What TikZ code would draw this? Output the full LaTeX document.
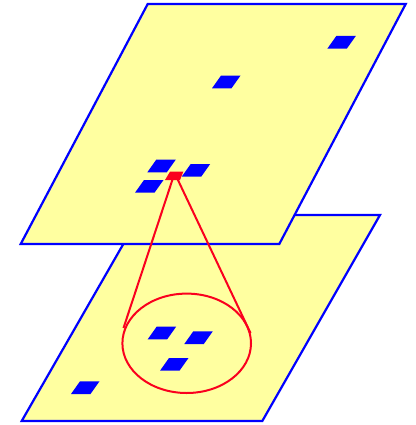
\documentclass[tikz,border=0pt]{standalone}
\definecolor{pl}{RGB}{255,255,160}
\definecolor{bl}{RGB}{0,0,255}
\definecolor{rd}{RGB}{250,0,30}
\begin{document}
\begin{tikzpicture}[x=1pt,y=-1pt,
  plane/.style={draw=bl,fill=pl,line width=2.2pt,line join=miter},
  cell/.style={fill=bl},
  zoomline/.style={draw=rd,line width=2pt}]
\useasboundingbox (0,0) rectangle (415,425);
\newcommand{\cellat}[3][cell]{\fill[#1] (#2,#3) -- ++(19.5,0) -- ++(9,-12.7) -- ++(-19.5,0) -- cycle;}
% bottom plane
\draw[plane] (21.7,421) -- (262.3,421) -- (380,215) -- (140,215) -- cycle;
\cellat{147.7}{339.3}
\cellat{184.3}{344}
\cellat{160}{370.7}
\cellat{71}{394}
\draw[zoomline] (186.7,343.3) ellipse [x radius=64.3, y radius=49.7];
% top plane
\draw[plane] (20.7,244) -- (279.3,244) -- (405.7,4) -- (147.7,4) -- cycle;
\cellat{327.3}{48.7}
\cellat{212}{88.3}
\cellat{147.3}{172.3}
\cellat{181.7}{176.7}
\cellat{135}{192.7}
\fill[rd] (165,180) -- (180,180) -- (183.3,171.7) -- (170,171.7) -- cycle;
\coordinate (apexL) at (173,178);
\coordinate (apexR) at (177,178);
\coordinate (tanL) at (123.5,328);
\coordinate (tanR) at (250.5,333);
\draw[zoomline] (apexL) -- (tanL);
\draw[zoomline] (apexR) -- (tanR);
\end{tikzpicture}
\end{document}
